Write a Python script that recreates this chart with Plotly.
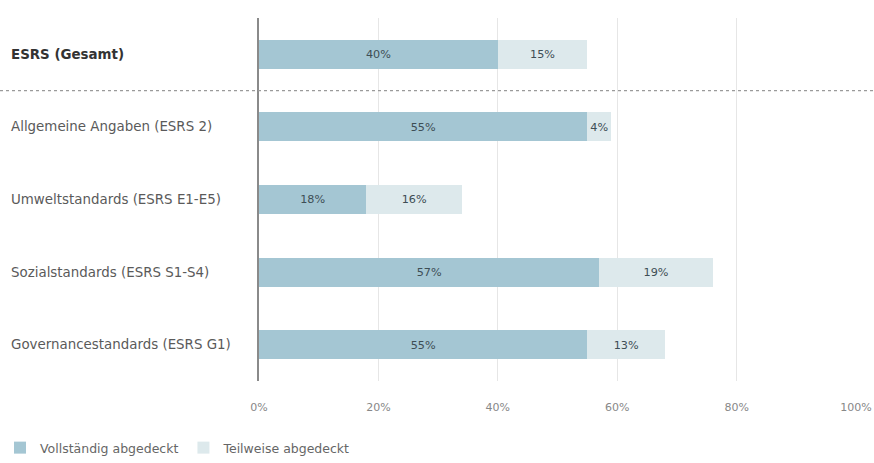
import plotly.graph_objects as go

categories = [
    "ESRS (Gesamt)",
    "Allgemeine Angaben (ESRS 2)",
    "Umweltstandards (ESRS E1-E5)",
    "Sozialstandards (ESRS S1-S4)",
    "Governancestandards (ESRS G1)",
]
full_cov = [40, 55, 18, 57, 55]
partial_cov = [15, 4, 16, 19, 13]
x_ticks = [0, 20, 40, 60, 80, 100]
x_tick_labels = ["0%", "20%", "40%", "60%", "80%", "100%"]

W, H = 874, 463
ML, MR, MT, MB = 259, 18, 18, 82
PW = W - ML - MR

FONT = "DejaVu Sans"
C_FULL = "#a4c6d3"
C_PART = "#dde9ec"
C_TXT = "#3e4e55"

fig = go.Figure()
fig.add_trace(go.Bar(
    y=categories, x=full_cov, orientation="h", name="Vollständig abgedeckt",
    marker=dict(color=C_FULL, line=dict(width=0)),
    text=[f"{v}%" for v in full_cov], textposition="inside",
    insidetextanchor="middle", textangle=0,
    textfont=dict(family=FONT, size=11.5, color=C_TXT),
    width=0.4,
))
fig.add_trace(go.Bar(
    y=categories, x=partial_cov, orientation="h", name="Teilweise abgedeckt",
    marker=dict(color=C_PART, line=dict(width=0)),
    text=[f"{v}%" for v in partial_cov], textposition="inside",
    insidetextanchor="middle", textangle=0,
    textfont=dict(family=FONT, size=11.5, color=C_TXT),
    width=0.4,
))

# left-aligned row labels
for i, cat in enumerate(categories):
    fig.add_annotation(
        x=(9 - ML) / PW, xref="paper", y=cat, yref="y",
        text=f"<b>{cat}</b>" if i == 0 else cat,
        showarrow=False, xanchor="left", yanchor="middle",
        font=dict(family=FONT, size=13.4, color="#333" if i == 0 else "#5a5a5a"),
    )

# dotted separator below the total row
fig.add_shape(
    type="line", xref="paper", yref="y",
    x0=-ML / PW, x1=1 + MR / PW, y0=0.5, y1=0.5,
    line=dict(color="#9a9a9a", width=1.2, dash="dot"),
    layer="above",
)

fig.update_layout(
    width=W, height=H,
    margin=dict(l=ML, r=MR, t=MT, b=MB, autoexpand=False),
    paper_bgcolor="white", plot_bgcolor="white",
    barmode="stack", bargap=0.6,
    font=dict(family=FONT, color="#555"),
    uniformtext=dict(minsize=8, mode="show"),
    xaxis=dict(
        range=[0, 100], tickvals=x_ticks, ticktext=x_tick_labels,
        showgrid=True, gridcolor="#e6e6e6", gridwidth=1,
        zeroline=False, showline=False, ticks="",
        tickfont=dict(family=FONT, size=11, color="#888"),
        ticklabelstandoff=18, ticklabeloverflow="allow",
        automargin=False,
    ),
    yaxis=dict(
        categoryorder="array", categoryarray=categories,
        range=[4.5, -0.5], showticklabels=False,
        showline=True, linecolor="#8a8a8a", linewidth=2,
        showgrid=False, zeroline=False, ticks="", automargin=False,
    ),
    legend=dict(
        orientation="h", xref="container", yref="container",
        x=-0.01, y=0.0, xanchor="left", yanchor="bottom",
        font=dict(family=FONT, size=12.5, color="#666"),
        traceorder="normal", itemwidth=30,
    ),
)

fig.write_html("out.html")
